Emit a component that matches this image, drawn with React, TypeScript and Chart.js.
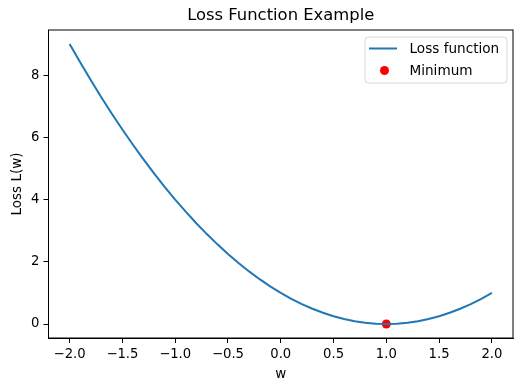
import React, { useEffect, useRef } from "react";
import { Chart, registerables } from "chart.js";
Chart.register(...registerables);

const wValues = [
  -2.0, -1.9, -1.8, -1.7, -1.6, -1.5, -1.4, -1.3, -1.2, -1.1, -1.0, -0.9, -0.8, -0.7,
  -0.6, -0.5, -0.4, -0.3, -0.2, -0.1, 0.0, 0.1, 0.2, 0.3, 0.4, 0.5, 0.6, 0.7, 0.8, 0.9,
  1.0, 1.1, 1.2, 1.3, 1.4, 1.5, 1.6, 1.7, 1.8, 1.9, 2.0,
];
const lossValues = [
  9.0, 8.41, 7.84, 7.29, 6.76, 6.25, 5.76, 5.29, 4.84, 4.41, 4.0, 3.61, 3.24, 2.89,
  2.56, 2.25, 1.96, 1.69, 1.44, 1.21, 1.0, 0.81, 0.64, 0.49, 0.36, 0.25, 0.16, 0.09, 0.04, 0.01,
  0.0, 0.01, 0.04, 0.09, 0.16, 0.25, 0.36, 0.49, 0.64, 0.81, 1.0,
];
const minimumW = [1.0];
const minimumLoss = [0.0];
const xTickValues = [-2.0, -1.5, -1.0, -0.5, 0.0, 0.5, 1.0, 1.5, 2.0];
const yTickValues = [0, 2, 4, 6, 8];
const seriesLabels = ["Loss function", "Minimum"];
const chartTitle = "Loss Function Example";
const xAxisTitle = "w";
const yAxisTitle = "Loss L(w)";

const FONT = "'DejaVu Sans', sans-serif";
const LINE_COLOR = "#1f77b4";
const POINT_COLOR = "#ff0000";

const fmt = (v: number, digits: number) => {
  const s = Math.abs(v).toFixed(digits);
  return v < 0 ? "\u2212" + s : s;
};

export default function App() {
  const ref = useRef<HTMLCanvasElement | null>(null);

  useEffect(() => {
    const canvas = ref.current;
    if (!canvas) return;

    const decor = {
      id: "decor",
      afterDraw(chart: any) {
        const { ctx, chartArea } = chart;
        const { left, right, top, bottom } = chartArea;
        ctx.save();
        // frame
        ctx.strokeStyle = "#000";
        ctx.lineWidth = 1;
        ctx.strokeRect(left, top, right - left, bottom - top);
        // title
        ctx.fillStyle = "#000";
        ctx.textAlign = "center";
        ctx.textBaseline = "middle";
        ctx.font = `16.4px ${FONT}`;
        ctx.fillText(chartTitle, (left + right) / 2, 16);
        // axis titles
        ctx.font = `13.5px ${FONT}`;
        ctx.fillText(xAxisTitle, (left + right) / 2, 374);
        ctx.save();
        ctx.translate(17, (top + bottom) / 2);
        ctx.rotate(-Math.PI / 2);
        ctx.fillText(yAxisTitle, 0, 0);
        ctx.restore();
        // legend
        const lx = 365, ly = 37, lw = 142, lh = 46, r = 3;
        ctx.beginPath();
        ctx.moveTo(lx + r, ly);
        ctx.lineTo(lx + lw - r, ly);
        ctx.quadraticCurveTo(lx + lw, ly, lx + lw, ly + r);
        ctx.lineTo(lx + lw, ly + lh - r);
        ctx.quadraticCurveTo(lx + lw, ly + lh, lx + lw - r, ly + lh);
        ctx.lineTo(lx + r, ly + lh);
        ctx.quadraticCurveTo(lx, ly + lh, lx, ly + lh - r);
        ctx.lineTo(lx, ly + r);
        ctx.quadraticCurveTo(lx, ly, lx + r, ly);
        ctx.closePath();
        ctx.fillStyle = "rgba(255,255,255,0.8)";
        ctx.fill();
        ctx.strokeStyle = "#d6d6d6";
        ctx.stroke();
        // line sample
        ctx.strokeStyle = LINE_COLOR;
        ctx.lineWidth = 2;
        ctx.beginPath();
        ctx.moveTo(369, 48.5);
        ctx.lineTo(397, 48.5);
        ctx.stroke();
        // point sample
        ctx.fillStyle = POINT_COLOR;
        ctx.beginPath();
        ctx.arc(384.5, 70.5, 4.5, 0, Math.PI * 2);
        ctx.fill();
        ctx.fillStyle = "#000";
        ctx.textAlign = "left";
        ctx.font = `13.6px ${FONT}`;
        ctx.fillText(seriesLabels[0], 409.5, 49.5);
        ctx.fillText(seriesLabels[1], 409.5, 71);
        ctx.restore();
      },
    };

    const chart = new Chart(canvas, {
      type: "line",
      data: {
        datasets: [
          {
            label: seriesLabels[0],
            data: wValues.map((w, i) => ({ x: w, y: lossValues[i] })),
            borderColor: LINE_COLOR,
            backgroundColor: LINE_COLOR,
            borderWidth: 2,
            pointRadius: 0,
            tension: 0,
            fill: false,
          },
          {
            type: "scatter",
            label: seriesLabels[1],
            data: minimumW.map((w, i) => ({ x: w, y: minimumLoss[i] })),
            borderColor: POINT_COLOR,
            backgroundColor: POINT_COLOR,
            pointRadius: 4.5,
            borderWidth: 0,
            showLine: false,
          } as any,
        ],
      },
      plugins: [decor],
      options: {
        animation: false,
        responsive: false,
        devicePixelRatio: 1,
        layout: { padding: { top: 30, right: 10, left: 0, bottom: 0 } },
        plugins: {
          legend: { display: false },
          title: { display: false },
          tooltip: { enabled: false },
        },
        scales: {
          x: {
            type: "linear",
            min: -2.2,
            max: 2.2,
            afterBuildTicks: (scale: any) => {
              scale.ticks = xTickValues.map((v) => ({ value: v }));
            },
            afterFit: (scale: any) => {
              scale.height = 53;
            },
            grid: {
              display: true,
              drawOnChartArea: false,
              drawTicks: true,
              tickLength: 5,
              color: "#000",
              lineWidth: 1,
            },
            border: { display: true, color: "#000", width: 1 },
            ticks: {
              color: "#000",
              font: { family: FONT, size: 13.2 },
              padding: 4,
              maxRotation: 0,
              autoSkip: false,
              callback: (v: any) => fmt(Number(v), 1),
            },
          },
          y: {
            type: "linear",
            min: -0.45,
            max: 9.45,
            afterBuildTicks: (scale: any) => {
              scale.ticks = yTickValues.map((v) => ({ value: v }));
            },
            afterFit: (scale: any) => {
              scale.width = 48.5;
            },
            grid: {
              display: true,
              drawOnChartArea: false,
              drawTicks: true,
              tickLength: 5,
              color: "#000",
              lineWidth: 1,
            },
            border: { display: true, color: "#000", width: 1 },
            ticks: {
              color: "#000",
              font: { family: FONT, size: 13.2 },
              padding: 4,
              autoSkip: false,
              callback: (v: any) => fmt(Number(v), 0),
            },
          },
        },
      },
    });

    return () => chart.destroy();
  }, []);

  return (
    <div style={{ position: "fixed", left: 0, top: 0, width: 523, height: 391, background: "#fff" }}>
      <canvas ref={ref} width={523} height={391} style={{ width: 523, height: 391, display: "block" }} />
    </div>
  );
}
